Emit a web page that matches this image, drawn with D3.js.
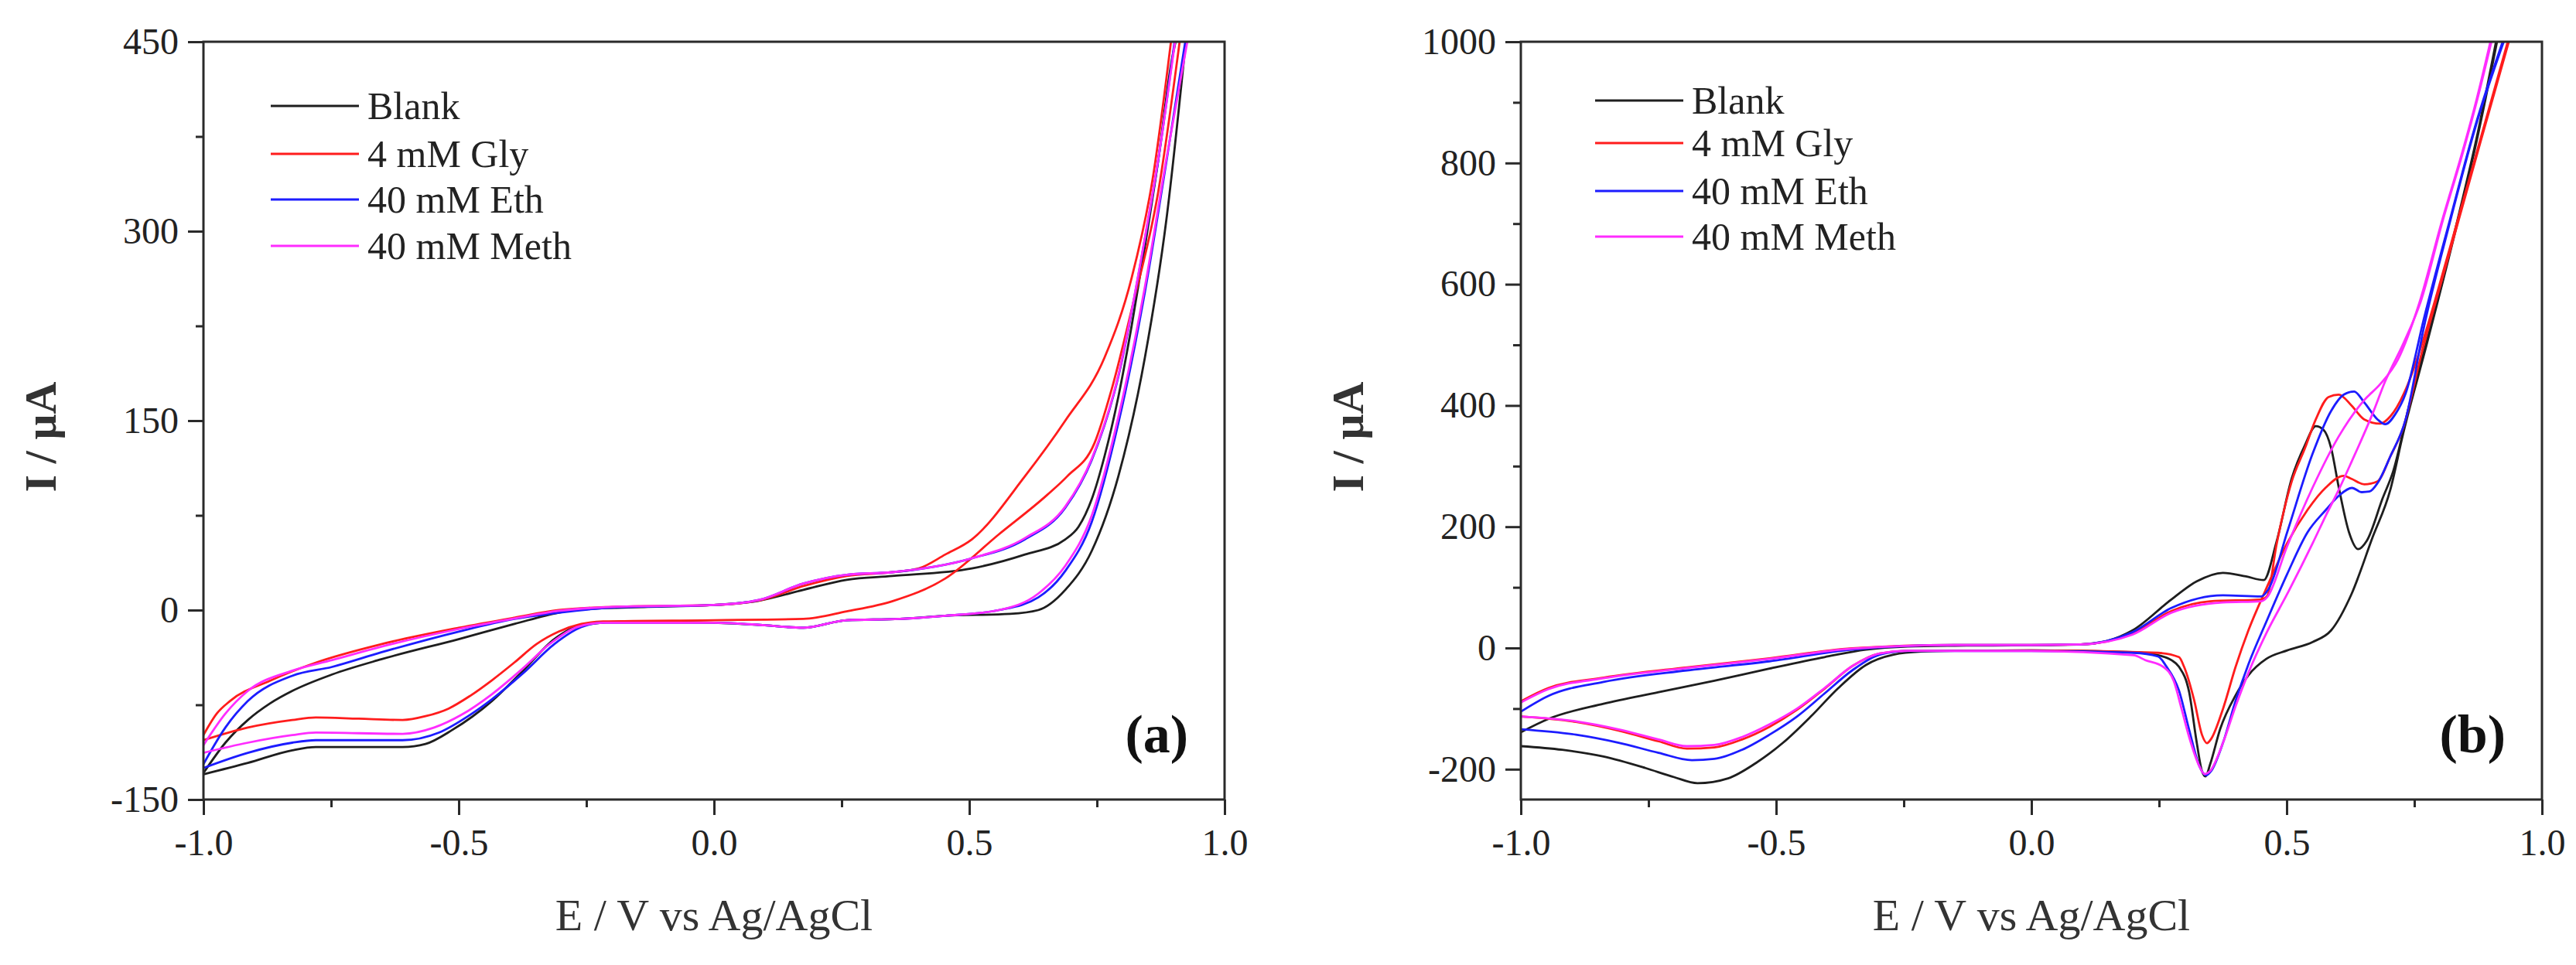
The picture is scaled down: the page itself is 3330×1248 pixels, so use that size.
<!DOCTYPE html>
<html><head><meta charset="utf-8">
<script src="https://cdn.jsdelivr.net/npm/d3@7"></script>
<style>body{margin:0;background:#fff} text{font-family:"Liberation Serif","Times New Roman",serif}</style>
</head><body><svg id="c" width="3330" height="1248"></svg>
<script>
// ---------- Panel (a) data: [E (V), I (µA)], each branch listed with increasing E ----------
const aBlankFwd = [[-1.00,-129],[-0.957,-105],[-0.913,-87],[-0.87,-74],[-0.826,-64],[-0.748,-51],[-0.652,-39],[-0.50,-23],[-0.391,-11],[-0.304,-2],[-0.26,0.5],[-0.13,2.5],[0.0,4],[0.088,7.5],[0.175,16],[0.26,24],[0.349,27],[0.505,33],[0.609,44],[0.688,56],[0.714,66],[0.74,88],[0.765,122],[0.792,169],[0.818,225],[0.844,288],[0.87,356],[0.896,434],[0.904,450]];
const aBlankRev = [[-1.00,-130],[-0.913,-121],[-0.826,-111],[-0.78,-108.5],[-0.61,-108.5],[-0.565,-106],[-0.513,-95],[-0.435,-72],[-0.374,-48],[-0.313,-23],[-0.26,-12],[-0.17,-9],[0.0,-10],[0.1,-12],[0.175,-14],[0.26,-8],[0.364,-7],[0.453,-4.5],[0.58,-3],[0.635,0],[0.688,16],[0.74,47],[0.792,106],[0.844,200],[0.886,309],[0.924,450]];
const aGlyFwd = [[-1.00,-99],[-0.974,-82],[-0.948,-72],[-0.87,-56],[-0.78,-41.6],[-0.652,-27],[-0.50,-14],[-0.391,-6],[-0.304,0],[-0.2,2.5],[0.0,4],[0.088,7.5],[0.175,19],[0.26,27],[0.349,30],[0.401,33],[0.453,44],[0.505,56],[0.609,106],[0.688,150],[0.765,200],[0.818,263],[0.859,341],[0.895,450]];
const aGlyRev = [[-1.00,-103],[-0.913,-93],[-0.826,-87],[-0.78,-85],[-0.696,-86],[-0.61,-87],[-0.565,-84],[-0.52,-78],[-0.478,-68],[-0.435,-55.6],[-0.391,-41.5],[-0.348,-27],[-0.304,-17],[-0.26,-11],[-0.217,-9],[0.0,-8],[0.175,-7],[0.26,-1],[0.349,7],[0.453,25],[0.558,60],[0.652,91],[0.692,106],[0.745,132],[0.781,178],[0.818,238],[0.87,331],[0.912,450]];
const aEthFwd = [[-1.00,-122],[-0.957,-93],[-0.913,-72],[-0.826,-52],[-0.748,-45],[-0.652,-33.5],[-0.50,-17],[-0.391,-7],[-0.304,-2],[-0.2,2],[0.0,4],[0.088,8],[0.175,21],[0.26,28],[0.349,30],[0.505,41],[0.609,56],[0.688,81],[0.74,119],[0.792,185],[0.844,294],[0.87,356],[0.902,450]];
const aEthRev = [[-1.00,-125],[-0.913,-113],[-0.826,-105],[-0.78,-103],[-0.61,-103],[-0.539,-97],[-0.478,-83],[-0.435,-70.6],[-0.374,-50],[-0.313,-27],[-0.26,-13.5],[-0.217,-10],[0.0,-10],[0.1,-12],[0.175,-14],[0.26,-8],[0.364,-7],[0.453,-4.5],[0.558,0],[0.635,10],[0.688,31],[0.74,70],[0.792,148],[0.844,252],[0.886,355],[0.923,450]];
const aMethFwd = [[-1.00,-107],[-0.957,-82],[-0.913,-64],[-0.826,-48],[-0.748,-39.6],[-0.652,-29],[-0.50,-15],[-0.391,-6.7],[-0.304,-0.6],[-0.2,2.5],[0.0,4],[0.088,8],[0.175,21],[0.26,28],[0.349,30],[0.505,41],[0.609,57],[0.688,82],[0.74,120],[0.792,186],[0.844,295],[0.87,357],[0.903,450]];
const aMethRev = [[-1.00,-113],[-0.913,-105],[-0.826,-99],[-0.78,-97],[-0.61,-98],[-0.548,-93],[-0.495,-83],[-0.435,-66.6],[-0.374,-46],[-0.321,-26.6],[-0.269,-13.5],[-0.217,-10],[0.0,-10],[0.1,-12],[0.175,-14],[0.26,-8],[0.364,-7],[0.453,-4.5],[0.558,0],[0.635,13],[0.688,35],[0.74,75],[0.792,153],[0.844,256],[0.886,357],[0.927,450]];

// ---------- Panel (b) data ----------
const bBlankFwd = [[-1.00,-139],[-0.946,-117],[-0.838,-92],[-0.73,-73],[-0.621,-54],[-0.513,-34],[-0.405,-15],[-0.324,-2.6],[-0.242,2.5],[-0.15,3.8],[0.0,4.5],[0.097,6],[0.15,12],[0.198,29],[0.274,80],[0.324,110],[0.375,124],[0.42,118],[0.455,112],[0.48,175],[0.51,280],[0.536,335],[0.557,366],[0.572,360],[0.587,330],[0.602,265],[0.622,191],[0.64,163],[0.657,177],[0.688,247],[0.708,290],[0.74,400],[0.774,505],[0.834,704],[0.872,841],[0.91,1000]];
const bBlankRev = [[-1.00,-162],[-0.919,-168],[-0.838,-179],[-0.756,-198],[-0.70,-213],[-0.654,-223],[-0.594,-215],[-0.54,-190],[-0.486,-156],[-0.432,-113],[-0.378,-66],[-0.324,-28],[-0.27,-11],[-0.215,-6],[-0.15,-4.7],[0.0,-4],[0.198,-7],[0.248,-12],[0.274,-20],[0.289,-31],[0.309,-73],[0.324,-157],[0.334,-203],[0.341,-212],[0.35,-192],[0.37,-133],[0.40,-78],[0.425,-45],[0.46,-18],[0.501,-4],[0.551,10],[0.587,29],[0.627,89],[0.668,182],[0.703,261],[0.728,353],[0.774,500],[0.834,700],[0.872,836],[0.912,1000]];
const bGlyFwd = [[-1.00,-88],[-0.946,-66],[-0.838,-49],[-0.675,-32],[-0.513,-17],[-0.351,-0.4],[-0.15,5],[0.0,5],[0.097,6],[0.198,24],[0.274,61],[0.35,77],[0.45,80],[0.462,86],[0.48,170],[0.51,275],[0.536,330],[0.557,377],[0.582,414],[0.602,418],[0.627,400],[0.652,377],[0.683,370],[0.703,382],[0.735,430],[0.764,499],[0.819,658],[0.88,841],[0.933,1000]];
const bGlyRev = [[-1.00,-113],[-0.892,-122],[-0.81,-136],[-0.73,-154],[-0.675,-166],[-0.621,-164],[-0.567,-151],[-0.513,-130],[-0.459,-102],[-0.405,-67],[-0.351,-30],[-0.297,-9],[-0.242,-4.7],[-0.15,-4.5],[0.0,-4],[0.248,-8],[0.289,-15],[0.299,-31],[0.319,-87],[0.334,-143],[0.344,-157],[0.352,-150],[0.375,-101],[0.40,-31],[0.425,29],[0.46,98],[0.501,173],[0.541,228],[0.577,265],[0.612,284],[0.627,279],[0.652,270],[0.678,275],[0.703,316],[0.728,363],[0.764,485],[0.819,652],[0.88,836],[0.935,1000]];
const bEthFwd = [[-1.00,-105],[-0.946,-79],[-0.838,-56],[-0.675,-37],[-0.513,-22],[-0.351,-2.6],[-0.15,5],[0.0,5],[0.097,6],[0.198,26],[0.274,66],[0.375,87],[0.45,85],[0.465,98],[0.501,191],[0.551,321],[0.587,391],[0.612,418],[0.632,423],[0.652,405],[0.678,377],[0.693,369],[0.713,386],[0.733,420],[0.769,544],[0.819,704],[0.87,863],[0.923,1000]];
const bEthRev = [[-1.00,-134],[-0.892,-143],[-0.81,-156],[-0.73,-173],[-0.665,-185],[-0.621,-183],[-0.567,-168],[-0.513,-143],[-0.459,-113],[-0.405,-75],[-0.351,-37],[-0.297,-11],[-0.242,-5],[0.0,-5],[0.2,-8],[0.248,-14],[0.264,-30],[0.289,-70],[0.309,-135],[0.329,-195],[0.342,-210],[0.352,-203],[0.375,-157],[0.40,-87],[0.425,-27],[0.46,43],[0.501,122],[0.541,191],[0.577,228],[0.602,251],[0.628,264],[0.647,257],[0.662,258],[0.678,272],[0.703,316],[0.733,377],[0.769,530],[0.819,700],[0.87,860],[0.925,1000]];
const bMethFwd = [[-1.00,-90],[-0.946,-68],[-0.838,-50],[-0.675,-33],[-0.513,-18],[-0.351,-1],[-0.15,5],[0.0,5],[0.097,6],[0.198,22],[0.274,58],[0.375,75],[0.45,77],[0.462,84],[0.501,168],[0.551,265],[0.602,349],[0.652,409],[0.683,435],[0.718,476],[0.759,567],[0.804,704],[0.844,818],[0.872,905],[0.899,1000]];
const bMethRev = [[-1.00,-113],[-0.892,-121],[-0.81,-134],[-0.73,-151],[-0.675,-162],[-0.621,-160],[-0.567,-147],[-0.513,-126],[-0.459,-100],[-0.405,-66],[-0.351,-30],[-0.297,-9],[-0.242,-4.7],[0.0,-5],[0.2,-12],[0.223,-20],[0.258,-31],[0.279,-55],[0.294,-100],[0.309,-147],[0.329,-195],[0.339,-208],[0.35,-203],[0.375,-157],[0.40,-96],[0.425,-41],[0.46,24],[0.501,89],[0.551,173],[0.577,219],[0.602,261],[0.627,307],[0.668,386],[0.693,440],[0.73,505],[0.762,570],[0.806,706],[0.846,820],[0.874,907],[0.901,1000]];

// ---------- labels, ticks ----------
const seriesNames = ["Blank","4 mM Gly","40 mM Eth","40 mM Meth"];
const seriesColors = ["#1e1e1e","#ff1c1c","#1c1cff","#ff2cff"];
const xMajor = [-1,-0.5,0,0.5,1];
const xMinor = [-0.75,-0.25,0.25,0.75];
const aYMajor = [-150,0,150,300,450];
const aYMinor = [-75,75,225,375];
const bYMajor = [-200,0,200,400,600,800,1000];
const bYMinor = [-100,100,300,500,700,900];
const xTitle = "E / V vs Ag/AgCl";
const yTitle = "I / µA";
const panelLabels = ["(a)","(b)"];

const svg = d3.select("#c");
const W = 1320, TOP = 54, BOTTOM = 1034, AX = "#2a2a2a";
const panels = [
  {left:263, yDom:[-150,450], yMaj:aYMajor, yMin:aYMinor,
   fwd:[aBlankFwd,aGlyFwd,aEthFwd,aMethFwd], rev:[aBlankRev,aGlyRev,aEthRev,aMethRev],
   legX:350, legRows:[137,199,258,318], yTitleX:72},
  {left:1966, yDom:[-250,1000], yMaj:bYMajor, yMin:bYMinor,
   fwd:[bBlankFwd,bGlyFwd,bEthFwd,bMethFwd], rev:[bBlankRev,bGlyRev,bEthRev,bMethRev],
   legX:2062, legRows:[130,185,247,306], yTitleX:1762}
];

panels.forEach((p,i)=>{
  const x = d3.scaleLinear().domain([-1,1]).range([p.left, p.left+W]);
  const y = d3.scaleLinear().domain(p.yDom).range([BOTTOM, TOP]);
  const g = svg.append("g");
  svg.append("clipPath").attr("id","clip"+i).append("rect")
    .attr("x",p.left).attr("y",TOP).attr("width",W).attr("height",BOTTOM-TOP);
  const line = d3.line().x(d=>x(d[0])).y(d=>y(d[1])).curve(d3.curveMonotoneX);
  const lg = g.append("g").attr("clip-path",`url(#clip${i})`);
  p.fwd.forEach((s,k)=>{
    [s, p.rev[k]].forEach(br=>{
      lg.append("path").attr("d",line(br)).attr("fill","none")
        .attr("stroke",seriesColors[k]).attr("stroke-width",2.8).attr("stroke-linejoin","round");
    });
  });

  const styleAxis = sel => {
    sel.select(".domain").remove();
    sel.selectAll(".tick line").attr("stroke",AX).attr("stroke-width",3);
    sel.selectAll(".tick text").attr("font-size",48).attr("fill","#222")
      .style("font-family",'"Liberation Serif","Times New Roman",serif');
  };
  g.append("g").attr("transform",`translate(${p.left},0)`)
    .call(d3.axisLeft(y).tickValues(p.yMaj).tickSize(20).tickSizeOuter(0).tickPadding(12).tickFormat(d=>String(d)))
    .call(styleAxis);
  g.append("g").attr("transform",`translate(${p.left},0)`)
    .call(d3.axisLeft(y).tickValues(p.yMin).tickSize(10).tickSizeOuter(0).tickFormat(""))
    .call(styleAxis);
  g.append("g").attr("transform",`translate(0,${BOTTOM})`)
    .call(d3.axisBottom(x).tickValues(xMajor).tickSize(20).tickSizeOuter(0).tickPadding(18).tickFormat(d=>d.toFixed(1)))
    .call(styleAxis);
  g.append("g").attr("transform",`translate(0,${BOTTOM})`)
    .call(d3.axisBottom(x).tickValues(xMinor).tickSize(10).tickSizeOuter(0).tickFormat(""))
    .call(styleAxis);

  g.append("rect").attr("x",p.left).attr("y",TOP).attr("width",W).attr("height",BOTTOM-TOP)
    .attr("fill","none").attr("stroke",AX).attr("stroke-width",3);

  // legend
  seriesNames.forEach((n,k)=>{
    const ry = p.legRows[k];
    g.append("line").attr("x1",p.legX).attr("x2",p.legX+114).attr("y1",ry).attr("y2",ry)
      .attr("stroke",seriesColors[k]).attr("stroke-width",3);
    g.append("text").attr("x",p.legX+125).attr("y",ry+17).attr("font-size",50).attr("fill","#222").text(n);
  });

  g.append("text").attr("x",p.left+W/2).attr("y",1203).attr("text-anchor","middle")
    .attr("font-size",58).attr("fill","#333").text(xTitle);
  g.append("text").attr("transform",`translate(${p.yTitleX},565) rotate(-90)`).attr("text-anchor","middle")
    .attr("font-size",58).attr("font-weight","bold").attr("fill","#333").text(yTitle);
  g.append("text").attr("x",p.left+W-47).attr("y",973).attr("text-anchor","end")
    .attr("font-size",70).attr("font-weight","bold").attr("fill","#111").text(panelLabels[i]);
});
</script></body></html>
